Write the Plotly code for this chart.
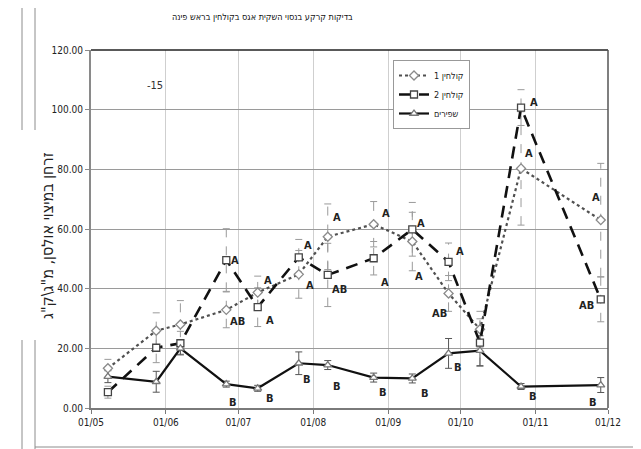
import plotly.graph_objects as go

# ---------------- data ----------------
dates = ["2005-05-08", "2005-05-28", "2005-06-07", "2005-06-26", "2005-07-09",
         "2005-07-26", "2005-08-07", "2005-08-26", "2005-09-11", "2005-09-26",
         "2005-10-09", "2005-10-26", "2005-11-28"]

kolhin1 = [13.3, 25.9, 28.0, 32.9, 38.7, 44.8, 57.4, 61.6, 55.8, 38.4, 26.4, 80.3, 63.0]
kolhin1_err = [3.0, 6.0, 8.0, 6.0, 5.5, 8.0, 11.0, 7.6, 9.8, 6.0, 6.0, 19.0, 19.0]
kolhin1_letters = ["", "", "", "AB", "A", "A", "A", "A", "A", "AB", "", "A", "A"]

kolhin2 = [5.3, 20.2, 21.7, 49.6, 33.8, 50.5, 44.6, 50.2, 59.9, 49.0, 21.9, 100.7, 36.4]
kolhin2_err = [2.0, 5.0, 4.0, 10.5, 6.5, 6.0, 10.6, 5.6, 9.0, 6.3, 8.0, 6.0, 7.5]
kolhin2_letters = ["", "", "", "A", "A", "A", "AB", "A", "A", "A", "", "A", "AB"]

shafirim = [10.5, 8.8, 20.0, 8.0, 6.6, 15.0, 14.4, 10.2, 9.9, 18.3, 19.2, 7.2, 7.7]
shafirim_err = [2.0, 3.5, 2.0, 1.0, 1.0, 3.8, 1.5, 1.5, 1.5, 5.0, 5.0, 1.0, 2.5]
shafirim_letters = ["", "", "", "B", "B", "B", "B", "B", "B", "B", "", "B", "B"]

series_names = ["קולחין 1", "קולחין 2", "שפירים"]
title_text = "בדיקות קרקע בנסוי השקית אגס בקולחין בראש פינה"
y_title = 'זרחן במיצוי אולסן, מ"ג\\ק"ג'
month_ticks = ["2005-05-01", "2005-06-01", "2005-07-01", "2005-08-01",
               "2005-09-01", "2005-10-01", "2005-11-01", "2005-12-01"]
y_ticks = [0, 20, 40, 60, 80, 100, 120]

# letter offsets (pixels, dx right, dy down) -- styling only
off1 = [(0, 0), (0, 0), (0, 0), (11, 12), (10, -12), (11, 11), (9, -19), (12, -11),
        (7, 35), (-9, 20), (0, 0), (8, -15), (-5, -23)]
off2 = [(0, 0), (0, 0), (0, 0), (9, 0), (12, 13), (9, -12), (12, 15), (11, 24),
        (9, -6), (11, -10), (0, 0), (13, -5), (-14, 6)]
off3 = [(0, 0), (0, 0), (0, 0), (7, 18), (12, 10), (8, 16), (9, 21), (9, 15),
        (13, 15), (9, 14), (0, 0), (12, 10), (-8, 17)]

FONT = "Liberation Sans Narrow, DejaVu Sans Condensed, Arial Narrow, Liberation Sans, Arial"

# geometry (page pixels; page has 8px body margin) -- layout only
OFF = 8
W, H = 641, 449
L, R, T, B = 91 - OFF, 608 - OFF, 50 - OFF, 408 - OFF
PW, PH = R - L, B - T


def px(xp):
    return (xp - OFF - L) / PW


def py(yp):
    return (B - (yp - OFF)) / PH


fig = go.Figure()


def bar_segments(xs, vals, errs):
    bx, by = [], []
    for d, v, e in zip(xs, vals, errs):
        bx += [d, d, None]
        by += [v - e, v + e, None]
    return bx, by


def caps(xs, vals, errs):
    cx, cy = [], []
    for d, v, e in zip(xs, vals, errs):
        cx += [d, d]
        cy += [v - e, v + e]
    return cx, cy


# error bars
for vals, errs, col, dash in [(kolhin1, kolhin1_err, "#9a9a9a", "dash"),
                              (kolhin2, kolhin2_err, "#9a9a9a", "dash"),
                              (shafirim, shafirim_err, "#555555", "solid")]:
    bx, by = bar_segments(dates, vals, errs)
    fig.add_trace(go.Scatter(x=bx, y=by, mode="lines", showlegend=False,
                             line=dict(color=col, width=1, dash=dash), hoverinfo="skip"))
    cx, cy = caps(dates, vals, errs)
    fig.add_trace(go.Scatter(x=cx, y=cy, mode="markers", showlegend=False,
                             marker=dict(symbol="line-ew", size=5,
                                         line=dict(color=col, width=1)),
                             hoverinfo="skip"))

# main series
fig.add_trace(go.Scatter(
    x=dates, y=kolhin1, name=series_names[0], mode="lines+markers",
    line=dict(color="#505050", width=2.2, dash="dot"),
    marker=dict(symbol="diamond", size=7, color="white",
                line=dict(color="#8a8a8a", width=1.3))))
fig.add_trace(go.Scatter(
    x=dates, y=kolhin2, name=series_names[1], mode="lines+markers",
    line=dict(color="#111111", width=2.6, dash="12px,8px"),
    marker=dict(symbol="square", size=7, color="white",
                line=dict(color="#444444", width=1.3))))
fig.add_trace(go.Scatter(
    x=dates, y=shafirim, name=series_names[2], mode="lines+markers",
    line=dict(color="#111111", width=2.2),
    marker=dict(symbol="triangle-up", size=7, color="white",
                line=dict(color="#777777", width=1.3))))

# letters
annotations = []
for vals, letters, offs in [(kolhin1, kolhin1_letters, off1),
                            (kolhin2, kolhin2_letters, off2),
                            (shafirim, shafirim_letters, off3)]:
    for d, v, t, (dx, dy) in zip(dates, vals, letters, offs):
        if t:
            annotations.append(dict(x=d, y=v, xref="x", yref="y", text="<b>" + t + "</b>",
                                    showarrow=False, xshift=dx, yshift=-dy,
                                    font=dict(family=FONT, size=11, color="#222222")))

annotations.append(dict(x=px(155), y=py(85), xref="paper", yref="paper", text="-15",
                        xanchor="center", yanchor="middle",
                        showarrow=False, font=dict(family=FONT, size=11, color="#333333")))
# chart title
annotations.append(dict(x=px(260), y=py(17), xref="paper", yref="paper",
                        xanchor="center", yanchor="middle", xshift=2,
                        text=title_text, showarrow=False,
                        font=dict(family=FONT, size=9, color="#111111")))
# y axis title
annotations.append(dict(x=px(48), y=py(236), xref="paper", yref="paper",
                        xanchor="center", yanchor="middle", textangle=-90,
                        text=y_title, showarrow=False,
                        font=dict(family=FONT, size=16, color="#222222")))

# page decorations (scan frame)
shapes = []
line_gray = dict(color="#8c8c8c", width=1)
for xpx in [22, 35]:
    shapes.append(dict(type="line", xref="paper", yref="paper",
                       x0=px(xpx), x1=px(xpx), y0=py(0), y1=py(130), line=line_gray))
    shapes.append(dict(type="line", xref="paper", yref="paper",
                       x0=px(xpx), x1=px(xpx), y0=py(340), y1=py(449), line=line_gray))
shapes.append(dict(type="line", xref="paper", yref="paper",
                   x0=px(35), x1=px(641), y0=py(447), y1=py(447), line=line_gray))
# plot border top and right
shapes.append(dict(type="line", xref="paper", yref="paper", x0=0, x1=1, y0=1, y1=1,
                   line=dict(color="#222222", width=1.5)))
shapes.append(dict(type="line", xref="paper", yref="paper", x0=1, x1=1, y0=0, y1=1,
                   line=dict(color="#555555", width=1.5)))

fig.update_layout(
    width=W, height=H,
    margin=dict(l=L, r=W - R, t=T, b=H - B),
    paper_bgcolor="white", plot_bgcolor="white",
    font=dict(family=FONT, color="#222222"),
    showlegend=True,
    legend=dict(x=px(393), y=py(60), xanchor="left", yanchor="top",
                bgcolor="white", bordercolor="#999999", borderwidth=1,
                font=dict(family=FONT, size=9, color="#222222"),
                itemwidth=30, tracegroupgap=0),
    annotations=annotations,
    shapes=shapes,
    xaxis=dict(type="date", range=["2005-05-01", "2005-12-01"],
               tickvals=month_ticks, tickformat="%d/%m",
               showgrid=True, gridcolor="#cfcfcf", gridwidth=1,
               showline=True, linecolor="#7a7a7a", linewidth=2,
               ticks="outside", ticklen=4, tickcolor="#7a7a7a",
               tickfont=dict(family=FONT, size=10, color="#222222"),
               zeroline=False),
    yaxis=dict(range=[0, 120], tickvals=y_ticks, tickformat=".2f",
               showgrid=True, gridcolor="#9a9a9a", gridwidth=1,
               showline=True, linecolor="#8a8a8a", linewidth=2,
               ticks="outside", ticklen=4, tickcolor="#8a8a8a",
               tickfont=dict(family=FONT, size=10, color="#222222"),
               zeroline=False),
)

fig.write_html("out.html")
